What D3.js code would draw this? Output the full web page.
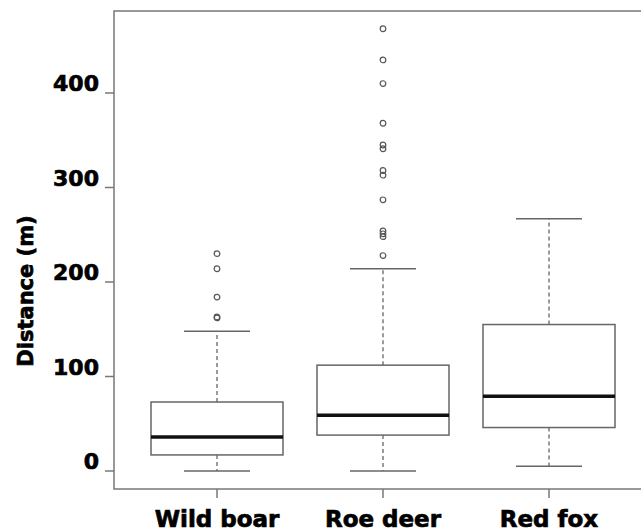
<!DOCTYPE html>
<html>
<head>
<meta charset="utf-8">
<script src="https://cdn.jsdelivr.net/npm/d3@7"></script>
<style>
  body { margin: 0; background: #fff; }
  text { font-family: "DejaVu Sans", sans-serif; font-weight: bold; fill: #000; stroke: #000; stroke-width: 0.7px; }
</style>
</head>
<body>
<div id="chart"></div>
<script>
// data
const species = ['Wild boar', 'Roe deer', 'Red fox'];
const lowerWhisker = [0, 0, 5];
const q1 = [17, 38, 46];
const median = [36, 59, 79];
const q3 = [73, 112, 155];
const upperWhisker = [148, 214, 267];
const outliers = [
    [162, 163, 184, 214, 230],
    [228, 248, 251, 254, 287, 313, 318, 341, 345, 368, 410, 435, 468],
    []
];
const yTicks = [0, 100, 200, 300, 400];

const width = 641, height = 531;
const frame = { left: 114, top: 11, right: 660, bottom: 489 };

const svg = d3.select('#chart').append('svg')
    .attr('width', width)
    .attr('height', height);

const y = d3.scaleLinear().domain([0, 400]).range([471, 93]);
const x = d3.scalePoint().domain(species).range([217, 549]);
const boxW = 132;
const capW = 66;
const grey = '#666';

// frame (right side runs off the picture)
svg.append('rect')
    .attr('x', frame.left)
    .attr('y', frame.top)
    .attr('width', frame.right - frame.left)
    .attr('height', frame.bottom - frame.top)
    .attr('fill', 'none')
    .attr('stroke', '#777')
    .attr('stroke-width', 1.5);

// y axis ticks + labels
const yAxis = svg.append('g');
yAxis.selectAll('line')
    .data(yTicks)
    .enter()
    .append('line')
    .attr('x1', frame.left - 9)
    .attr('x2', frame.left)
    .attr('y1', d => y(d))
    .attr('y2', d => y(d))
    .attr('stroke', '#777')
    .attr('stroke-width', 1.5);
yAxis.selectAll('text')
    .data(yTicks)
    .enter()
    .append('text')
    .attr('x', 99)
    .attr('y', d => y(d) - 2)
    .attr('text-anchor', 'end')
    .style('font-size', '22px')
    .text(d => d);

// x ticks + labels
svg.selectAll('.xtick')
    .data(species)
    .enter()
    .append('line')
    .attr('class', 'xtick')
    .attr('x1', d => x(d))
    .attr('x2', d => x(d))
    .attr('y1', frame.bottom)
    .attr('y2', frame.bottom + 9)
    .attr('stroke', '#777')
    .attr('stroke-width', 1.5);

svg.selectAll('.xlab')
    .data(species)
    .enter()
    .append('text')
    .attr('class', 'xlab')
    .attr('x', d => x(d))
    .attr('y', 527)
    .attr('text-anchor', 'middle')
    .style('font-size', '23px')
    .text(d => d);

// y axis title
svg.append('text')
    .attr('transform', 'translate(33,291) rotate(-90)')
    .attr('text-anchor', 'middle')
    .style('font-size', '21px')
    .text('Distance (m)');

// boxes
const boxes = svg.selectAll('.box')
    .data(species.map((s, i) => ({
        name: s, lo: lowerWhisker[i], q1: q1[i], med: median[i],
        q3: q3[i], hi: upperWhisker[i], out: outliers[i]
    })))
    .enter()
    .append('g')
    .attr('class', 'box')
    .attr('transform', d => `translate(${x(d.name)},0)`);

// whiskers (dashed)
boxes.append('line')
    .attr('y1', d => y(d.q3)).attr('y2', d => y(d.hi))
    .attr('stroke', grey).attr('stroke-width', 1.3)
    .attr('stroke-dasharray', '4,3');
boxes.append('line')
    .attr('y1', d => y(d.q1)).attr('y2', d => y(d.lo))
    .attr('stroke', grey).attr('stroke-width', 1.3)
    .attr('stroke-dasharray', '4,3');

// caps
boxes.append('line')
    .attr('x1', -capW / 2).attr('x2', capW / 2)
    .attr('y1', d => y(d.hi)).attr('y2', d => y(d.hi))
    .attr('stroke', grey).attr('stroke-width', 1.5);
boxes.append('line')
    .attr('x1', -capW / 2).attr('x2', capW / 2)
    .attr('y1', d => y(d.lo)).attr('y2', d => y(d.lo))
    .attr('stroke', grey).attr('stroke-width', 1.5);

boxes.append('rect')
    .attr('x', -boxW / 2)
    .attr('width', boxW)
    .attr('y', d => y(d.q3))
    .attr('height', d => y(d.q1) - y(d.q3))
    .attr('fill', '#fff')
    .attr('stroke', grey)
    .attr('stroke-width', 1.5);

boxes.append('line')
    .attr('x1', -boxW / 2).attr('x2', boxW / 2)
    .attr('y1', d => y(d.med)).attr('y2', d => y(d.med))
    .attr('stroke', '#111').attr('stroke-width', 3.5);

// outliers
boxes.selectAll('circle')
    .data(d => d.out)
    .enter()
    .append('circle')
    .attr('cy', d => y(d))
    .attr('r', 2.8)
    .attr('fill', 'none')
    .attr('stroke', '#555')
    .attr('stroke-width', 1.2);
</script>
</body>
</html>
